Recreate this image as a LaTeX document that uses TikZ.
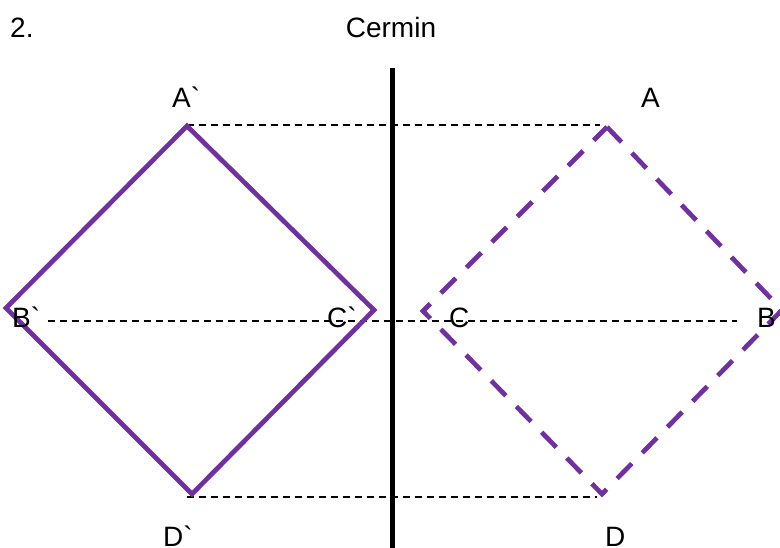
\documentclass[tikz,border=0pt]{standalone}
\usepackage{fontspec}
\newfontfamily\labfont{Liberation Sans}
\begin{document}
\begin{tikzpicture}[x=1pt,y=-1pt,
  lbl/.style={anchor=base west,inner sep=0pt,font=\labfont\fontsize{28}{31}\selectfont},
  guide/.style={black,line width=1.4pt,dash pattern=on 7pt off 5pt},
  mirrorline/.style={black,line width=5pt}]
\definecolor{vio}{RGB}{112,48,160}
\tikzset{real/.style={draw=vio,line width=4.7pt,line join=miter},
  virt/.style={draw=vio,line width=4.7pt,dash pattern=on 21pt off 15pt}}
\useasboundingbox (0,0) rectangle (780,548);
% vertices
\coordinate (Ai) at (187,126);
\coordinate (Bi) at (6,308);
\coordinate (Ci) at (374,310);
\coordinate (Di) at (192,494);
\coordinate (A) at (607,127);
\coordinate (B) at (782,310);
\coordinate (C) at (423,311);
\coordinate (D) at (602,494);
% guide line ends
\coordinate (t1) at (187,125);
\coordinate (t2) at (600,125);
\coordinate (m1) at (48,321);
\coordinate (m2) at (737,321);
\coordinate (b1) at (187,497);
\coordinate (b2) at (597,497);
\coordinate (mt) at (392,68);
\coordinate (mb) at (392,548);
% guides
\draw[guide] (t1) -- (t2);
\draw[guide] (m1) -- (m2);
\draw[guide] (b1) -- (b2);
% squares
\draw[real] (Ai) -- (Ci) -- (Di) -- (Bi) -- cycle;
\draw[virt] (A) -- (B) -- (D) -- (C) -- cycle;
% mirror
\draw[mirrorline] (mt) -- (mb);
% labels
\node[lbl] (n2) at (10,38) {2.};
\node[lbl,anchor=base] (cer) at (391,38) {Cermin};
\node[lbl] (lAi) at (172,108) {A`};
\node[lbl] (lA) at (641,108) {A};
\node[lbl] (lBi) at (12,328) {B`};
\node[lbl] (lCi) at (327,328) {C`};
\node[lbl] (lC) at (449,328) {C};
\node[lbl] (lB) at (757,328) {B};
\node[lbl] (lDi) at (163,546) {D`};
\node[lbl] (lD) at (605,546) {D};
\end{tikzpicture}
\end{document}
